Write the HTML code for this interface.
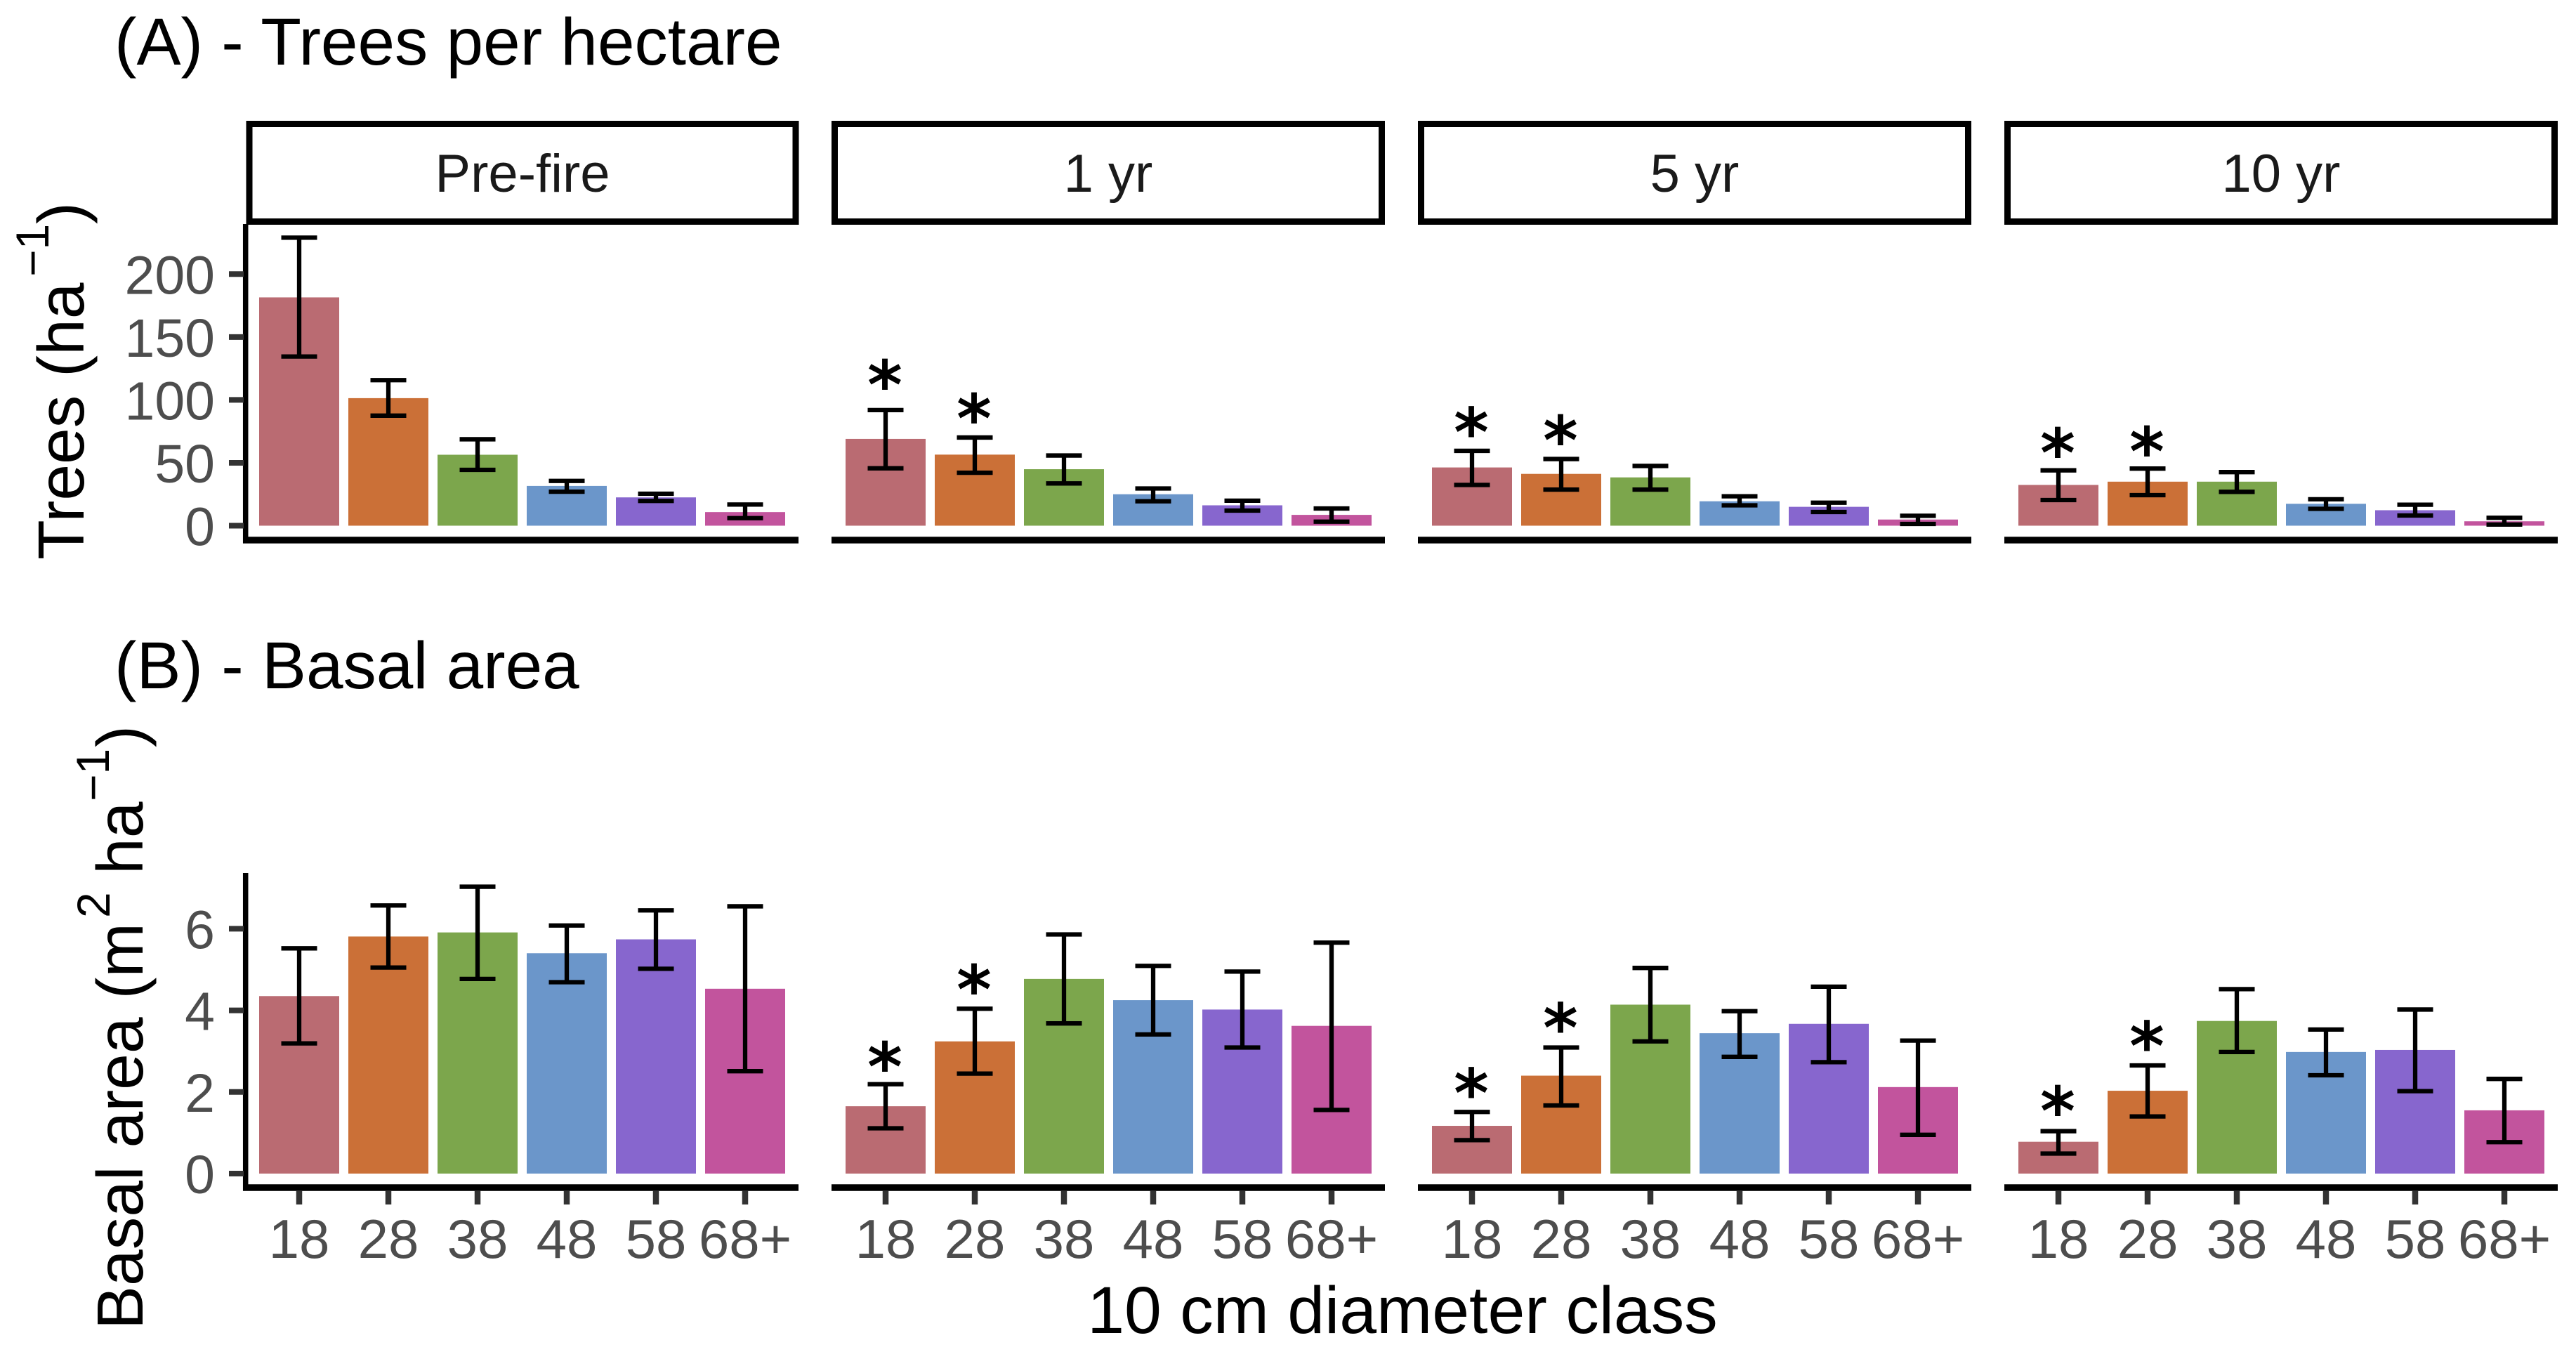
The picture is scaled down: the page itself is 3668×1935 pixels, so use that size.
<!DOCTYPE html>
<html>
<head>
<meta charset="utf-8">
<title>Trees per hectare and basal area by diameter class</title>
<style>
html,body{margin:0;padding:0;background:#fff;width:3668px;height:1935px;overflow:hidden}
svg{display:block;font-family:"Liberation Sans",Arial,sans-serif}
.panel-title{font-size:94.5px;fill:#000}
.axis-title{font-size:93px;fill:#000}
.axis-sup{font-size:66px;fill:#000}
.strip-text{font-size:76px;fill:#1a1a1a;text-anchor:middle}
.strip-box{fill:#fff;stroke:#000;stroke-width:9}
</style>
</head>
<body>
<svg id="chart" xmlns="http://www.w3.org/2000/svg" width="3668" height="1935" viewBox="0 0 3668 1935">
  <rect x="0" y="0" width="3668" height="1935" fill="#fff"/>
  <text class="panel-title" x="163" y="92">(A) - Trees per hectare</text>
  <text class="panel-title" x="163" y="980">(B) - Basal area</text>

  <g>
    <rect class="strip-box" x="355" y="176.5" width="778" height="139"/>
    <rect class="strip-box" x="1188.5" y="176.5" width="779" height="139"/>
    <rect class="strip-box" x="2023.5" y="176.5" width="779" height="139"/>
    <rect class="strip-box" x="2858.5" y="176.5" width="779" height="139"/>
    <text class="strip-text" x="744" y="273">Pre-fire</text>
    <text class="strip-text" x="1578" y="273">1 yr</text>
    <text class="strip-text" x="2413" y="273">5 yr</text>
    <text class="strip-text" x="3248" y="273">10 yr</text>
  </g>

  <g transform="translate(119,797) rotate(-90)">
    <text class="axis-title" x="0" y="0">Trees (ha</text>
    <text class="axis-sup" x="403" y="-50">−1</text>
    <text class="axis-title" x="478" y="0">)</text>
  </g>
  <g transform="translate(203,1893) rotate(-90)">
    <text class="axis-title" x="0" y="0">Basal area (m</text>
    <text class="axis-sup" x="586" y="-47">2</text>
    <text class="axis-title" x="648" y="0">ha</text>
    <text class="axis-sup" x="752" y="-48">−1</text>
    <text class="axis-title" x="829" y="0">)</text>
  </g>
  <text class="axis-title" style="font-size:95px" x="1997" y="1898" text-anchor="middle">10 cm diameter class</text>
  <g id="plots"></g>
</svg>
<script>
var categories = ['18', '28', '38', '48', '58', '68+'];
var barColors = ['#ba6b72', '#cb7037', '#7ca64c', '#6b96ca', '#8766ce', '#c2549d'];

var treeTicks = [0, 50, 100, 150, 200];
var treeMeans = [
  [181.5, 101.4, 56.4, 31.6, 22.5, 10.8],
  [69, 56.5, 44.9, 25, 16.2, 8.6],
  [46.3, 41.2, 38.4, 19.4, 15, 4.9],
  [32.4, 35, 35, 17.4, 12.3, 3.5]
];
var treeUpper = [
  [229, 115.7, 68.7, 35.6, 25.4, 16.8],
  [91.9, 70.1, 55.8, 29.6, 19.9, 13.7],
  [59.5, 53, 47.5, 23.4, 18.3, 7.9],
  [44, 45.4, 42.6, 21, 16.7, 6.3]
];
var treeLower = [
  [134.5, 87.5, 44.4, 27, 19.7, 6],
  [45.6, 42.1, 33.6, 19.4, 12, 3.2],
  [32.4, 28.7, 28.7, 16.2, 10.9, 1.4],
  [20.4, 24.3, 26.9, 13.4, 8.1, 0.9]
];
var treeStars = [
  [null, null],
  [120, 93.3],
  [82.4, 75.9],
  [66, 66.9]
];

var basalTicks = [0, 2, 4, 6];
var basalMeans = [
  [4.35, 5.81, 5.91, 5.4, 5.74, 4.53],
  [1.65, 3.24, 4.77, 4.25, 4.02, 3.62],
  [1.17, 2.4, 4.14, 3.44, 3.67, 2.12],
  [0.78, 2.03, 3.74, 2.98, 3.03, 1.55]
];
var basalUpper = [
  [5.52, 6.57, 7.03, 6.08, 6.45, 6.55],
  [2.19, 4.04, 5.86, 5.09, 4.95, 5.66],
  [1.51, 3.09, 5.04, 3.98, 4.58, 3.26],
  [1.04, 2.65, 4.52, 3.53, 4.02, 2.32]
];
var basalLower = [
  [3.19, 5.05, 4.77, 4.69, 5.02, 2.51],
  [1.11, 2.45, 3.68, 3.41, 3.09, 1.56],
  [0.82, 1.67, 3.24, 2.86, 2.73, 0.95],
  [0.49, 1.4, 2.98, 2.41, 2.02, 0.77]
];
var basalStars = [
  [null, null],
  [2.87, 4.76],
  [2.22, 3.82],
  [1.78, 3.37]
];

var NS = 'http://www.w3.org/2000/svg';
var root = document.getElementById('plots');

function xScale(panel, i) { return 426 + 835 * panel + 127 * i; }
function yTrees(v) { return 748.5 - 1.791 * v; }
function yBasal(v) { return 1671 - 58.1 * v; }
function panelLeft(panel) { return panel === 0 ? 346 : 1184 + 835 * (panel - 1); }
function panelRight(panel) { return 1137 + 835 * panel; }

function make(tag, parent) {
  var el = document.createElementNS(NS, tag);
  parent.appendChild(el);
  return el;
}
function setLine(el, x1, y1, x2, y2, color, width) {
  el.setAttribute('x1', x1);
  el.setAttribute('y1', y1);
  el.setAttribute('x2', x2);
  el.setAttribute('y2', y2);
  el.setAttribute('stroke', color);
  el.setAttribute('stroke-width', width);
}

function drawRow(yScale, means, upper, lower, stars, ticks, axisY, axisTop, showXAxisLabels) {
  var row = make('g', root);
  
  

  var yAxis = make('line', row);
  
  
  setLine(yAxis, 349.7, axisTop, 349.7, axisY + 4.5, '#000', 7.5);

  ticks.forEach(function (t) {
    var tick = make('line', row);
    
    
    setLine(tick, 326, yScale(t), 347, yScale(t), '#333', 8);
    var label = make('text', row);
    
    
    label.setAttribute('x', 306);
    label.setAttribute('y', yScale(t) + 28);
    label.setAttribute('text-anchor', 'end');
    label.setAttribute('font-size', 77);
    label.setAttribute('fill', '#4d4d4d');
    label.textContent = String(t);
  });

  means.forEach(function (panelMeans, p) {
    var axis = make('line', row);
    
    
    setLine(axis, panelLeft(p), axisY, panelRight(p), axisY, '#000', 9.5);

    panelMeans.forEach(function (v, i) {
      var cx = xScale(p, i);
      var bar = make('rect', row);
      
      
      bar.setAttribute('x', cx - 57);
      bar.setAttribute('y', yScale(v));
      bar.setAttribute('width', 114);
      bar.setAttribute('height', yScale(0) - yScale(v));
      bar.setAttribute('fill', barColors[i]);

      var top = yScale(upper[p][i]);
      var bottom = yScale(lower[p][i]);
      var err = make('path', row);
      
      
      err.setAttribute('d', 'M' + (cx - 25.5) + ' ' + top + 'H' + (cx + 25.5) +
        'M' + cx + ' ' + top + 'V' + bottom +
        'M' + (cx - 25.5) + ' ' + bottom + 'H' + (cx + 25.5));
      err.setAttribute('fill', 'none');
      err.setAttribute('stroke', '#000');
      err.setAttribute('stroke-width', 6.3);

      if (showXAxisLabels) {
        var tick = make('line', row);
        
        
        setLine(tick, cx, axisY + 4, cx, axisY + 24, '#333', 8.5);
        var label = make('text', row);
        
        
        label.setAttribute('x', cx);
        label.setAttribute('y', 1791);
        label.setAttribute('text-anchor', 'middle');
        label.setAttribute('font-size', 78);
        label.setAttribute('fill', '#4d4d4d');
        label.textContent = categories[i];
      }
    });

    stars[p].forEach(function (s, i) {
      if (s === null) { return; }
      var star = make('text', row);
      
      
      star.setAttribute('x', xScale(p, i) - 1);
      star.setAttribute('y', yScale(s) + 48);
      star.setAttribute('text-anchor', 'middle');
      star.setAttribute('font-family', '"DejaVu Sans", sans-serif');
      star.setAttribute('font-weight', 'bold');
      star.setAttribute('font-size', 95);
      star.setAttribute('fill', '#000');
      star.textContent = '*';
    });
  });
}

drawRow(yTrees, treeMeans, treeUpper, treeLower, treeStars, treeTicks, 769, 319, false);
drawRow(yBasal, basalMeans, basalUpper, basalLower, basalStars, basalTicks, 1691, 1243, true);
</script>
</body>
</html>
